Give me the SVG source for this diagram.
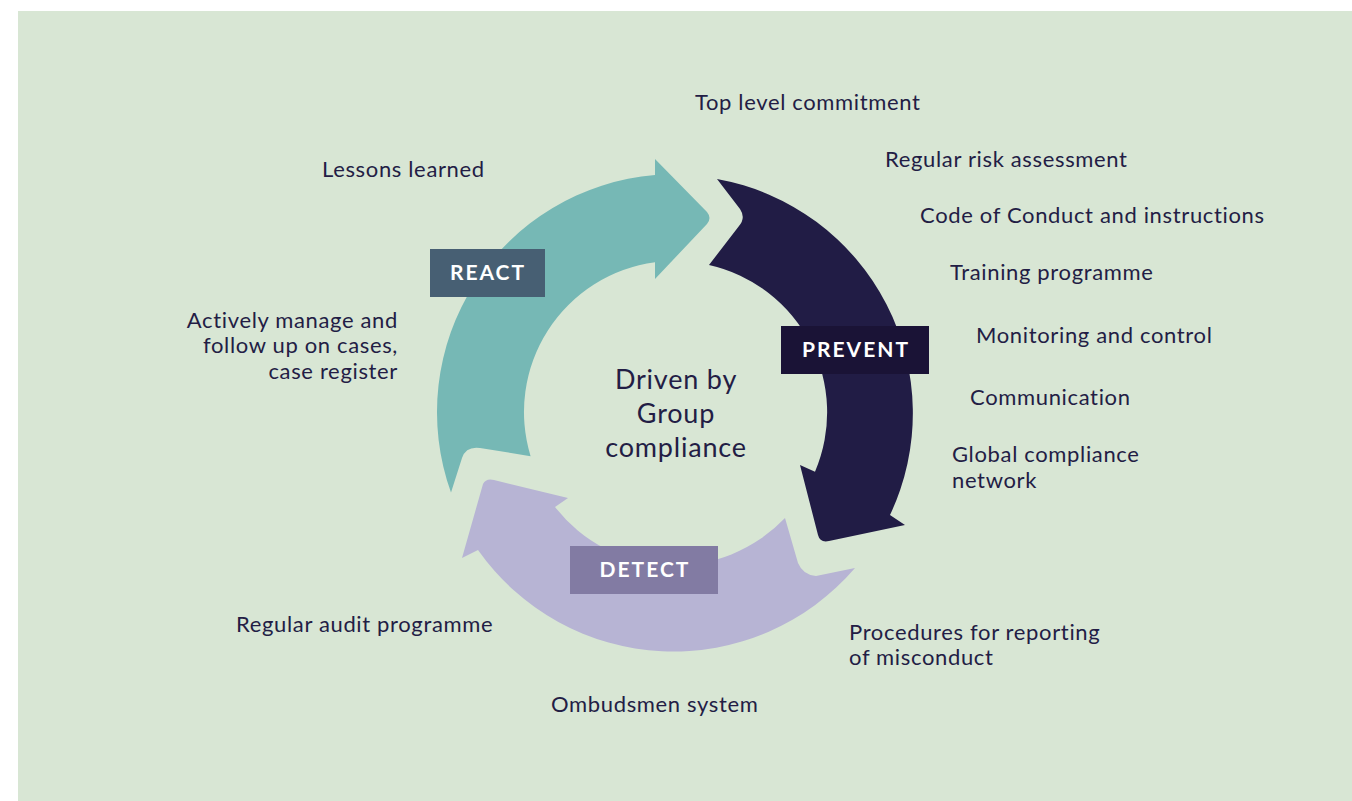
<svg xmlns="http://www.w3.org/2000/svg" width="1352" height="801" viewBox="0 0 1352 801">
<style>
.t{font-family:Lato,"Noto Sans","Liberation Sans",sans-serif;font-size:22px;letter-spacing:0.65px;fill:#231d45;}
.c{font-family:Lato,"Noto Sans","Liberation Sans",sans-serif;font-size:27px;letter-spacing:0.8px;fill:#231d45;text-anchor:middle;}
.lb{font-family:Lato,"Noto Sans","Liberation Sans",sans-serif;font-size:21px;font-weight:bold;fill:#ffffff;text-anchor:middle;letter-spacing:2px;}
</style>
<rect x="0" y="0" width="1352" height="801" fill="#ffffff"/>
<rect x="18" y="11" width="1334" height="790" fill="#d8e6d4"/>
<g id="connectors">
<path id="react-arrow" fill="#76b8b5" d="M451,492.6 A238,238 0 0 1 655,175 L655,159 L707,212 Q712,218 707,224 L655,279 L655,262.3 A151,151 0 0 0 530.6,456.2 L480,448 Q466,446 462,458 Z"/>
<path id="prevent-arrow" fill="#211c45" d="M717,179 A238,238 0 0 1 890,515 L905,525 L829,541 Q820,543 818,535 L800,465 L815,471.7 A151,151 0 0 0 709,265 L739,226 Q746,218 740,209 Z"/>
<path id="detect-arrow" fill="#b7b4d4" d="M855,568 A239,239 0 0 1 478,550 L462,558 L483,484 Q486,478 494,480 L568,498 L555,507 A152,152 0 0 0 785,518 L798,563 Q803,575 816,576 Z"/>
</g>
<g id="center">
<text class="c" x="676" y="389">Driven by</text>
<text class="c" x="676" y="423">Group</text>
<text class="c" x="676" y="457">compliance</text>
</g>
<g id="react">
<rect x="430" y="249" width="115" height="48" fill="#475f73"/>
<text class="lb" x="488" y="280">REACT</text>
</g>
<g id="prevent">
<rect x="781" y="326" width="148" height="48" fill="#1a1336"/>
<text class="lb" x="856" y="357">PREVENT</text>
</g>
<g id="detect">
<rect x="570" y="546" width="148" height="48" fill="#827ba3"/>
<text class="lb" x="645" y="577">DETECT</text>
</g>
<g id="labels">
<text class="t" x="322" y="177">Lessons learned</text>
<text class="t" x="695" y="110">Top level commitment</text>
<text class="t" x="885" y="167">Regular risk assessment</text>
<text class="t" x="920" y="223">Code of Conduct and instructions</text>
<text class="t" x="950" y="280">Training programme</text>
<text class="t" x="976" y="343">Monitoring and control</text>
<text class="t" x="970" y="405">Communication</text>
<text class="t" x="952" y="462">Global compliance</text>
<text class="t" x="952" y="488">network</text>
<text class="t" x="849" y="640">Procedures for reporting</text>
<text class="t" x="849" y="665">of misconduct</text>
<text class="t" x="551" y="712">Ombudsmen system</text>
<text class="t" x="236" y="632">Regular audit programme</text>
<text class="t" x="398" y="328" text-anchor="end">Actively manage and</text>
<text class="t" x="398" y="353" text-anchor="end">follow up on cases,</text>
<text class="t" x="398" y="379" text-anchor="end">case register</text>
</g>
</svg>
